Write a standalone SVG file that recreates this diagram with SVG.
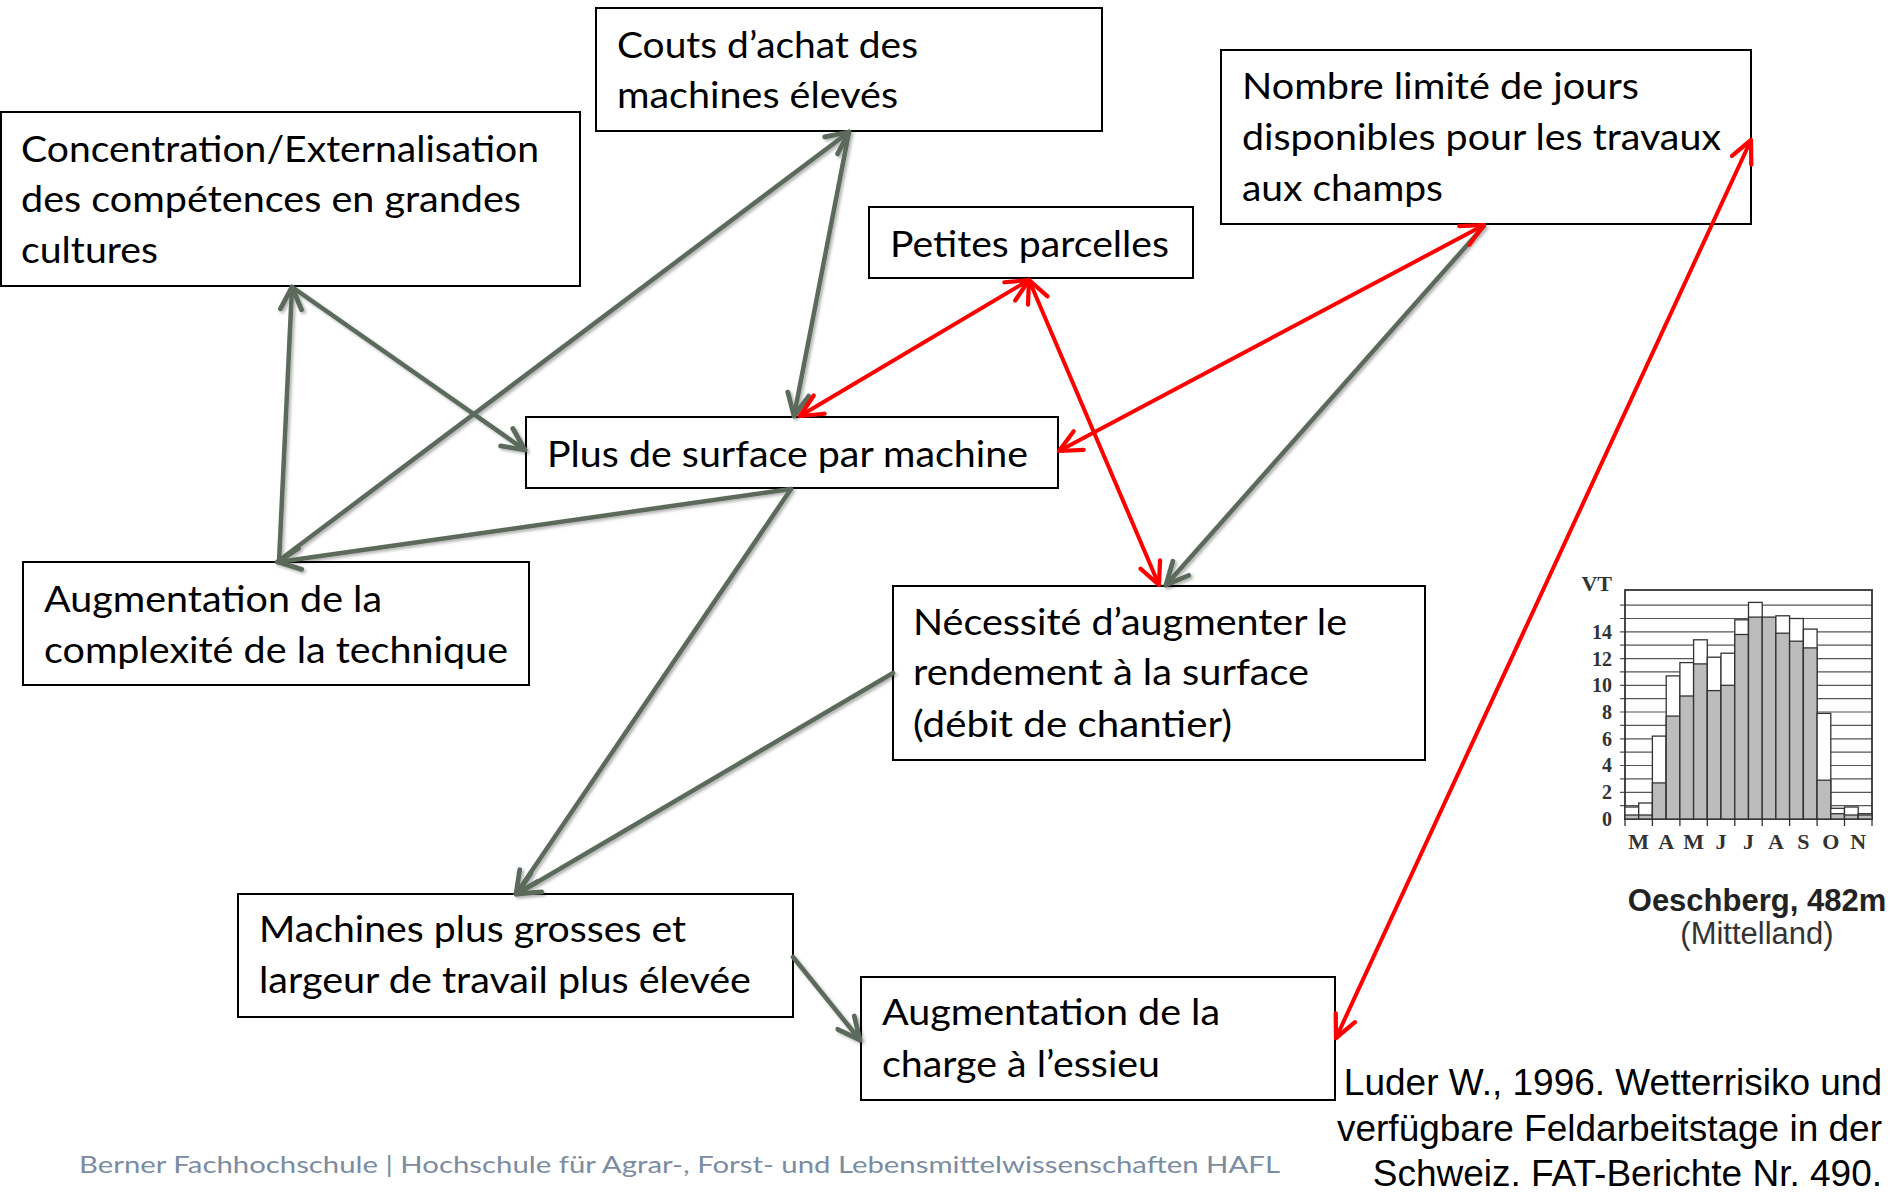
<svg xmlns="http://www.w3.org/2000/svg" width="1897" height="1192" viewBox="0 0 1897 1192">
<style>
.box{fill:#fff;stroke:#000;stroke-width:2}
.t{font-family:Lato,"Open Sans",sans-serif;font-size:37px;fill:#000}
.g{fill:none;stroke:#5b6a5b;stroke-width:4.5;stroke-linecap:round}
.r{fill:none;stroke:#ff0000;stroke-width:4;stroke-linecap:round}
.cit{font-family:"Liberation Sans",Arial,sans-serif;font-size:37px;fill:#000;text-anchor:end}
.foot{font-family:Lato,"Open Sans",sans-serif;font-size:24px;fill:#7b8ca2}
.ax{font-family:"Liberation Serif","Times New Roman",serif;font-weight:bold;fill:#333}
.bw{fill:#fff;stroke:#333;stroke-width:1.3}
.bg{fill:#bcbcbc;stroke:#333;stroke-width:1.3}
</style>
<defs>
<marker id="ag" markerUnits="userSpaceOnUse" markerWidth="34" markerHeight="34" viewBox="-28 -15 32 30" refX="0" refY="0" orient="auto-start-reverse">
<path d="M-21,-10 L0,0 L-21,10" fill="none" stroke="#5b6a5b" stroke-width="4.5" stroke-linecap="round" stroke-linejoin="round"/>
</marker>
<marker id="ar" markerUnits="userSpaceOnUse" markerWidth="34" markerHeight="34" viewBox="-28 -15 32 30" refX="0" refY="0" orient="auto-start-reverse">
<path d="M-21,-10 L0,0 L-21,10" fill="none" stroke="#ff0000" stroke-width="4" stroke-linecap="round" stroke-linejoin="round"/>
</marker>
<filter id="sh" filterUnits="userSpaceOnUse" x="0" y="0" width="1897" height="1192">
<feDropShadow dx="2" dy="2" stdDeviation="1.5" flood-color="#000" flood-opacity="0.3"/>
</filter>
</defs>
<rect width="1897" height="1192" fill="#fff"/>

<g id="n-concentration">
<rect class="box" x="1" y="112" width="579" height="174"/>
<text class="t" x="21" y="162" textLength="518" lengthAdjust="spacingAndGlyphs">Concentration/Externalisation</text>
<text class="t" x="21" y="212" textLength="500" lengthAdjust="spacingAndGlyphs">des compétences en grandes</text>
<text class="t" x="21" y="263" textLength="137" lengthAdjust="spacingAndGlyphs">cultures</text>
</g>
<g id="n-couts">
<rect class="box" x="596" y="8" width="506" height="123"/>
<text class="t" x="617" y="58" textLength="301" lengthAdjust="spacingAndGlyphs">Couts d’achat des</text>
<text class="t" x="617" y="108" textLength="281" lengthAdjust="spacingAndGlyphs">machines élevés</text>
</g>
<g id="n-petites">
<rect class="box" x="869" y="207" width="324" height="71"/>
<text class="t" x="890" y="257" textLength="279" lengthAdjust="spacingAndGlyphs">Petites parcelles</text>
</g>
<g id="n-nombre">
<rect class="box" x="1221" y="50" width="530" height="174"/>
<text class="t" x="1242" y="99" textLength="397" lengthAdjust="spacingAndGlyphs">Nombre limité de jours</text>
<text class="t" x="1242" y="150" textLength="479" lengthAdjust="spacingAndGlyphs">disponibles pour les travaux</text>
<text class="t" x="1242" y="201" textLength="201" lengthAdjust="spacingAndGlyphs">aux champs</text>
</g>
<g id="n-plus">
<rect class="box" x="526" y="417" width="532" height="71"/>
<text class="t" x="547" y="467" textLength="481" lengthAdjust="spacingAndGlyphs">Plus de surface par machine</text>
</g>
<g id="n-complexite">
<rect class="box" x="23" y="562" width="506" height="123"/>
<text class="t" x="44" y="612" textLength="338" lengthAdjust="spacingAndGlyphs">Augmentation de la</text>
<text class="t" x="44" y="663" textLength="464" lengthAdjust="spacingAndGlyphs">complexité de la technique</text>
</g>
<g id="n-necessite">
<rect class="box" x="893" y="586" width="532" height="174"/>
<text class="t" x="913" y="635" textLength="434" lengthAdjust="spacingAndGlyphs">Nécessité d’augmenter le</text>
<text class="t" x="913" y="685" textLength="396" lengthAdjust="spacingAndGlyphs">rendement à la surface</text>
<text class="t" x="913" y="737" textLength="319" lengthAdjust="spacingAndGlyphs">(débit de chantier)</text>
</g>
<g id="n-machines">
<rect class="box" x="238" y="894" width="555" height="123"/>
<text class="t" x="259" y="942" textLength="427" lengthAdjust="spacingAndGlyphs">Machines plus grosses et</text>
<text class="t" x="259" y="993" textLength="492" lengthAdjust="spacingAndGlyphs">largeur de travail plus élevée</text>
</g>
<g id="n-charge">
<rect class="box" x="861" y="977" width="474" height="123"/>
<text class="t" x="882" y="1025" textLength="338" lengthAdjust="spacingAndGlyphs">Augmentation de la</text>
<text class="t" x="882" y="1077" textLength="278" lengthAdjust="spacingAndGlyphs">charge à l’essieu</text>
</g>

<g id="connectors">
<g filter="url(#sh)">
<line class="g" x1="279" y1="562" x2="292" y2="287" marker-end="url(#ag)"/>
<line class="g" x1="292" y1="287" x2="525" y2="450" marker-end="url(#ag)"/>
<line class="g" x1="277" y1="562" x2="849" y2="132" marker-end="url(#ag)"/>
<line class="g" x1="849" y1="132" x2="794" y2="416" marker-end="url(#ag)"/>
<line class="g" x1="791" y1="489" x2="278" y2="562" marker-end="url(#ag)"/>
<line class="g" x1="791" y1="489" x2="516" y2="894" marker-end="url(#ag)"/>
<line class="g" x1="893" y1="673" x2="517" y2="894" marker-end="url(#ag)"/>
<line class="g" x1="1484" y1="226" x2="1166" y2="585" marker-end="url(#ag)"/>
<line class="g" x1="793" y1="957" x2="860" y2="1040" marker-end="url(#ag)"/>
</g>
<line class="r" x1="800" y1="416" x2="1029" y2="280" marker-start="url(#ar)" marker-end="url(#ar)"/>
<line class="r" x1="1029" y1="280" x2="1159" y2="585" marker-start="url(#ar)" marker-end="url(#ar)"/>
<line class="r" x1="1484" y1="225" x2="1059" y2="451" marker-start="url(#ar)" marker-end="url(#ar)"/>
<line class="r" x1="1751" y1="140" x2="1336" y2="1038" marker-start="url(#ar)" marker-end="url(#ar)"/>
</g>

<g id="chart">
<path d="M1620,805.6H1872M1620,792.3H1872M1620,778.9H1872M1620,765.5H1872M1620,752.2H1872M1620,738.8H1872M1620,725.4H1872M1620,712H1872M1620,698.7H1872M1620,685.3H1872M1620,671.9H1872M1620,658.6H1872M1620,645.2H1872M1620,631.8H1872M1620,618.5H1872M1620,605.1H1872" stroke="#555" stroke-width="1.2" fill="none"/>
<rect x="1625" y="590" width="247" height="229" fill="none" stroke="#333" stroke-width="1.8"/>
<path d="M1625,819v7M1652.4,819v7M1679.9,819v7M1707.3,819v7M1734.8,819v7M1762.2,819v7M1789.6,819v7M1817.1,819v7M1844.5,819v7M1872,819v7" stroke="#333" stroke-width="1.3"/>
<g>
<rect class="bw" x="1625" y="807" width="13.7" height="12"/><rect class="bg" x="1625" y="815" width="13.7" height="4"/>
<rect class="bw" x="1638.7" y="803" width="13.7" height="16"/><rect class="bg" x="1638.7" y="815" width="13.7" height="4"/>
<rect class="bw" x="1652.4" y="736.1" width="13.7" height="82.9"/><rect class="bg" x="1652.4" y="782.9" width="13.7" height="36.1"/>
<rect class="bw" x="1666.2" y="675.9" width="13.7" height="143.1"/><rect class="bg" x="1666.2" y="716.1" width="13.7" height="102.9"/>
<rect class="bw" x="1679.9" y="662.6" width="13.7" height="156.4"/><rect class="bg" x="1679.9" y="696" width="13.7" height="123"/>
<rect class="bw" x="1693.6" y="639.8" width="13.7" height="179.2"/><rect class="bg" x="1693.6" y="663.9" width="13.7" height="155.1"/>
<rect class="bw" x="1707.3" y="657.2" width="13.7" height="161.8"/><rect class="bg" x="1707.3" y="690.6" width="13.7" height="128.4"/>
<rect class="bw" x="1721" y="653.2" width="13.7" height="165.8"/><rect class="bg" x="1721" y="685.3" width="13.7" height="133.7"/>
<rect class="bw" x="1734.8" y="619.8" width="13.7" height="199.2"/><rect class="bg" x="1734.8" y="634.5" width="13.7" height="184.5"/>
<rect class="bw" x="1748.5" y="602.4" width="13.7" height="216.6"/><rect class="bg" x="1748.5" y="617.1" width="13.7" height="201.9"/>
<rect class="bg" x="1762.2" y="617.1" width="13.7" height="201.9"/>
<rect class="bw" x="1775.9" y="615.8" width="13.7" height="203.2"/><rect class="bg" x="1775.9" y="633.2" width="13.7" height="185.8"/>
<rect class="bw" x="1789.6" y="618.5" width="13.7" height="200.5"/><rect class="bg" x="1789.6" y="641.2" width="13.7" height="177.8"/>
<rect class="bw" x="1803.4" y="629.1" width="13.7" height="189.9"/><rect class="bg" x="1803.4" y="647.9" width="13.7" height="171.1"/>
<rect class="bw" x="1817.1" y="713.4" width="13.7" height="105.6"/><rect class="bg" x="1817.1" y="780.2" width="13.7" height="38.8"/>
<rect class="bw" x="1830.8" y="808.3" width="13.7" height="10.7"/><rect class="bg" x="1830.8" y="813.7" width="13.7" height="5.3"/>
<rect class="bw" x="1844.5" y="807" width="13.7" height="12"/><rect class="bg" x="1844.5" y="815" width="13.7" height="4"/>
<rect class="bw" x="1858.2" y="813.7" width="13.8" height="5.3"/><rect class="bg" x="1858.2" y="815" width="13.8" height="4"/>
</g>
<text class="ax" x="1612" y="591" font-size="22" text-anchor="end">VT</text>
<g class="ax" font-size="20" text-anchor="end">
<text x="1612" y="639">14</text>
<text x="1612" y="666">12</text>
<text x="1612" y="692">10</text>
<text x="1612" y="719">8</text>
<text x="1612" y="746">6</text>
<text x="1612" y="772">4</text>
<text x="1612" y="799">2</text>
<text x="1612" y="826">0</text>
</g>
<g class="ax" font-size="22" text-anchor="middle">
<text x="1638.7" y="849">M</text>
<text x="1666.2" y="849">A</text>
<text x="1693.6" y="849">M</text>
<text x="1721" y="849">J</text>
<text x="1748.5" y="849">J</text>
<text x="1775.9" y="849">A</text>
<text x="1803.4" y="849">S</text>
<text x="1830.8" y="849">O</text>
<text x="1858.2" y="849">N</text>
</g>
<text x="1757" y="911" font-family="Liberation Sans,Arial,sans-serif" font-weight="bold" font-size="31" fill="#222" text-anchor="middle">Oeschberg, 482m</text>
<text x="1757" y="944" font-family="Liberation Sans,Arial,sans-serif" font-size="31" fill="#333" text-anchor="middle">(Mittelland)</text>
</g>

<g id="citation">
<text class="cit" x="1882" y="1095">Luder W., 1996. Wetterrisiko und</text>
<text class="cit" x="1882" y="1141">verfügbare Feldarbeitstage in der</text>
<text class="cit" x="1882" y="1186">Schweiz. FAT-Berichte Nr. 490.</text>
</g>

<g id="footer">
<text class="foot" x="79" y="1173" textLength="1201" lengthAdjust="spacingAndGlyphs">Berner Fachhochschule | Hochschule für Agrar-, Forst- und Lebensmittelwissenschaften HAFL</text>
</g>
</svg>
